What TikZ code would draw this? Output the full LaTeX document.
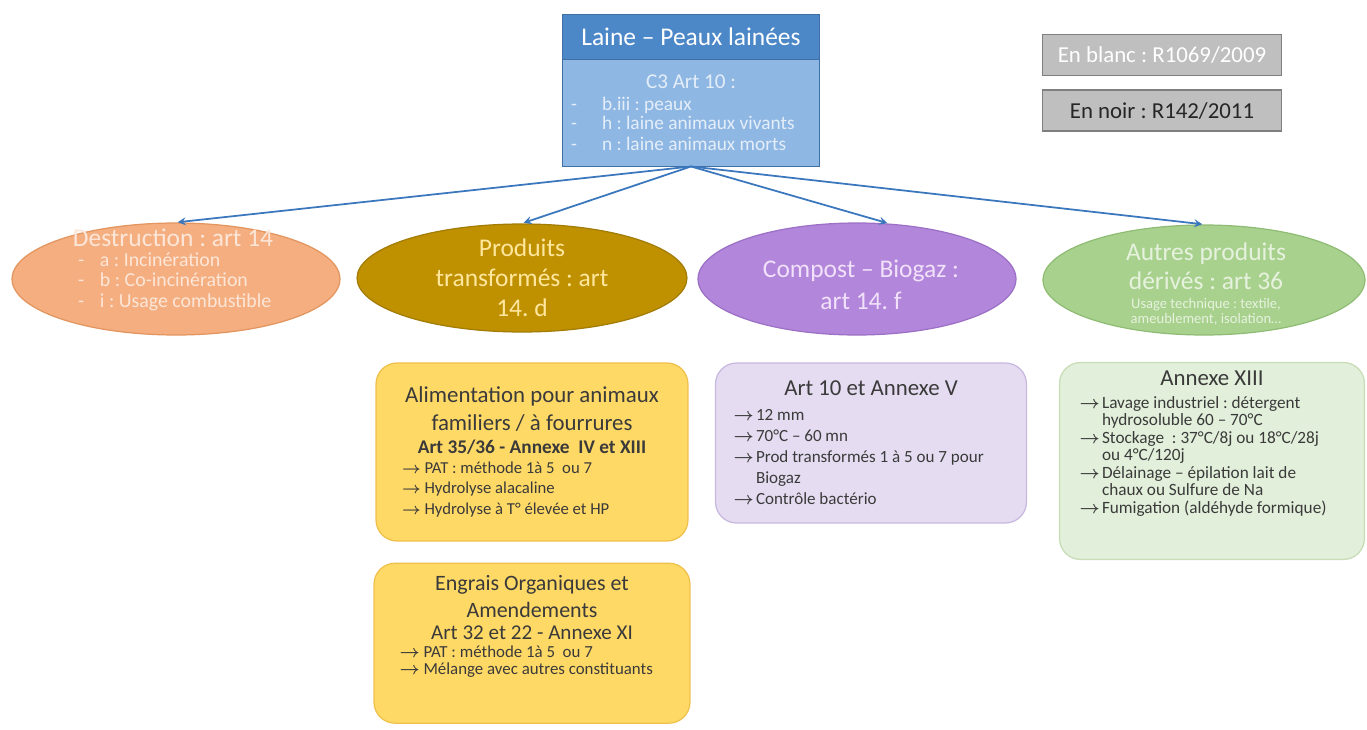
\documentclass[tikz,border=0pt]{standalone}
\usepackage{fontspec}
\setmainfont{Carlito}
\usetikzlibrary{arrows, shapes.geometric, positioning}
\frenchspacing

\definecolor{titrebleu}{HTML}{4C88C8}
\definecolor{titrebord}{HTML}{3F6FA3}
\definecolor{corpsbleu}{HTML}{8FB7E3}
\definecolor{corpstexte}{HTML}{E4EEF9}
\definecolor{gris}{HTML}{BFBFBF}
\definecolor{grisbord}{HTML}{7F7F7F}
\definecolor{orange}{HTML}{F4AE80}
\definecolor{orangebord}{HTML}{E3955F}
\definecolor{orangetexte}{HTML}{FCE6D8}
\definecolor{or}{HTML}{BF9000}
\definecolor{orbord}{HTML}{A27C05}
\definecolor{ortexte}{HTML}{FFE79E}
\definecolor{violet}{HTML}{B286DA}
\definecolor{violetbord}{HTML}{9B70C6}
\definecolor{violettexte}{HTML}{F1E1FA}
\definecolor{vert}{HTML}{A9D18E}
\definecolor{vertbord}{HTML}{8FBC74}
\definecolor{verttexte}{HTML}{E6F2DE}
\definecolor{jaune}{HTML}{FFD966}
\definecolor{jaunebord}{HTML}{EFC04A}
\definecolor{lavande}{HTML}{E5DCF1}
\definecolor{lavandebord}{HTML}{C7B8E0}
\definecolor{vertpale}{HTML}{E2EFDA}
\definecolor{vertpalebord}{HTML}{C6DDB6}
\definecolor{texte}{HTML}{3A3A3A}
\definecolor{flechebleu}{HTML}{3B77BD}

\newcommand{\fleche}{\mbox{\boldmath$\rightarrow$}}
\newcommand{\fl}{\makebox[0.45cm][l]{\fleche}}
\newcommand{\suite}{\hspace*{0.45cm}}
\newcommand{\tiret}{\makebox[0.62cm][l]{-}}

\begin{document}
\begin{tikzpicture}[
            x = 0.02cm, y = -0.02cm, % one unit = one pixel
            > = stealth, % arrow head style
            shorten > = 1pt, % don't touch arrow head to node
            semithick % line style
        ]

        \tikzstyle{ovale}=[
            ellipse,
            draw,
            line width = 0.7pt,
            inner sep = 0pt
        ]
        \tikzstyle{boite}=[
            rectangle,
            rounded corners = 0.42cm,
            draw,
            line width = 0.7pt,
            inner sep = 0pt,
            align = flush left,
            text = texte
        ]
        \tikzstyle{legende}=[
            rectangle,
            draw = grisbord,
            fill = gris,
            line width = 1pt,
            minimum width = 4.78cm,
            minimum height = 0.82cm,
            font = \fontsize{13}{15}\selectfont
        ]
        \tikzstyle{fleche}=[->, draw = flechebleu, line width = 1pt]

        \useasboundingbox[fill=white] (0,0) rectangle (1367,730);

        % en-tete
        \node[rectangle, draw=titrebord, fill=titrebleu, line width=1pt, outer sep=0pt,
              minimum width=5.14cm, minimum height=0.9cm, text=white,
              font=\fontsize{14.5}{16}\selectfont] (laine) at (691,37) {Laine – Peaux lainées};
        \node[rectangle, draw=titrebord, fill=corpsbleu, line width=1pt, outer sep=0pt,
              minimum width=5.14cm, minimum height=2.14cm, text width=4.8cm, align=flush left,
              text=corpstexte, below=0pt of laine] (c3) {%
            {\centering\fontsize{12}{14}\selectfont C3 Art 10 :\par}
            \fontsize{11}{10.6}\selectfont
            \vspace*{2pt}\tiret b.iii : peaux\\
            \tiret h : laine animaux vivants\\
            \tiret n : laine animaux morts};

        % legende
        \node[legende, text=white] (blanc) at (1162,55) {En blanc : R1069/2009};
        \node[legende, text=black!85, below=0.26cm of blanc] (noir) {En noir : R142/2011};

        % ovales
        \node[ovale, draw=orangebord, fill=orange, minimum width=6.56cm, minimum height=2.24cm] (dest) at (176,279) {};
        \node[ovale, draw=orbord, fill=or, minimum width=6.6cm, minimum height=2.16cm] (prod) at (522,278) {};
        \node[ovale, draw=violetbord, fill=violet, minimum width=6.36cm, minimum height=2.24cm] (comp) at (857,279) {};
        \node[ovale, draw=vertbord, fill=vert, minimum width=6.44cm, minimum height=2.2cm] (autres) at (1204,280) {};

        \node[text width=4.3cm, align=flush left, text=orangetexte] (dest-t) at (173,270) {%
            {\centering\fontsize{14.5}{16}\selectfont Destruction : art 14\par}
            \fontsize{11.3}{11.3}\selectfont
            \hspace*{0.25cm}\makebox[0.44cm][l]{-}a : Incinération\\
            \hspace*{0.25cm}\makebox[0.44cm][l]{-}b : Co-incinération\\
            \hspace*{0.25cm}\makebox[0.44cm][l]{-}i : Usage combustible};
        \node[text width=5cm, align=flush center, text=ortexte, font=\fontsize{14.5}{17}\selectfont] (prod-t) at (prod)
            {Produits\\ transformés : art\\ 14. d};
        \node[text width=5cm, align=flush center, text=violettexte, font=\fontsize{14.5}{18.5}\selectfont] (comp-t) at (861,285)
            {Compost – Biogaz :\\ art 14. f};
        \node[text width=5cm, align=flush center, text=verttexte] (autres-t) at (1206,284) {%
            {\fontsize{14.5}{17}\selectfont Autres produits\\ dérivés : art 36\par}
            \vspace*{2pt}
            {\fontsize{8.3}{8.6}\selectfont Usage technique : textile,\\ ameublement, isolation…\par}};

        % encadres
        \node[boite, draw=jaunebord, fill=jaune, minimum width=6.24cm, minimum height=3.56cm,
              text width=5.2cm] (alim) at (532,452) {%
            {\centering\fontsize{13}{15.8}\selectfont Alimentation pour animaux\\ familiers / à fourrures\par}
            {\centering\fontsize{11}{13}\selectfont\bfseries Art 35/36 - Annexe\ \ IV et XIII\par}
            \fontsize{9.5}{11.3}\selectfont
            \fleche\ PAT : méthode 1à 5\ \ ou 7\\
            \fleche\ Hydrolyse alacaline\\
            \fleche\ Hydrolyse à T° élevée et HP};
        \node[boite, draw=jaunebord, fill=jaune, minimum width=6.32cm, minimum height=3.2cm,
              text width=5.3cm, below=0.42cm of alim] (engr) {%
            {\centering\fontsize{12.5}{15.3}\selectfont Engrais Organiques et\\ Amendements\\
             \fontsize{12}{13}\selectfont Art 32 et 22 - Annexe XI\par}
            \fontsize{9.6}{9.8}\selectfont
            \fleche\ PAT : méthode 1à 5\ \ ou 7\\
            \fleche\ Mélange avec autres constituants\par
            \vspace*{0.68cm}};
        \node[boite, draw=lavandebord, fill=lavande, minimum width=6.22cm, minimum height=3.2cm,
              text width=5.5cm] (art10) at (871,443) {%
            {\centering\fontsize{13}{16}\selectfont Art 10 et Annexe V\par}
            \vspace*{2pt}
            \fontsize{9.7}{12}\selectfont
            \fl 12 mm\\
            \fl 70°C – 60 mn\\
            \fl Prod transformés 1 à 5 ou 7 pour\\
            \suite Biogaz\\
            \fl Contrôle bactério};
        \node[boite, draw=vertpalebord, fill=vertpale, minimum width=6.1cm, minimum height=3.94cm,
              text width=5.3cm] (ann13) at (1212,461) {%
            {\centering\fontsize{13}{15}\selectfont Annexe XIII\par}
            \vspace*{3pt}
            \fontsize{9.8}{10}\selectfont
            \fl Lavage industriel : détergent\\
            \suite hydrosoluble 60 – 70°C\\
            \fl Stockage\ \ : 37°C/8j ou 18°C/28j\\
            \suite ou 4°C/120j\\
            \fl Délainage – épilation lait de\\
            \suite chaux ou Sulfure de Na\\
            \fl Fumigation (aldéhyde formique)\par
            \vspace*{0.7cm}};

        % fleches
        \draw[fleche] (c3.south) -- (dest.north);
        \draw[fleche] (c3.south) -- (prod.north);
        \draw[fleche] (c3.south) -- (comp.60);
        \draw[fleche] (c3.south) -- (autres.north);

    \end{tikzpicture}
\end{document}
